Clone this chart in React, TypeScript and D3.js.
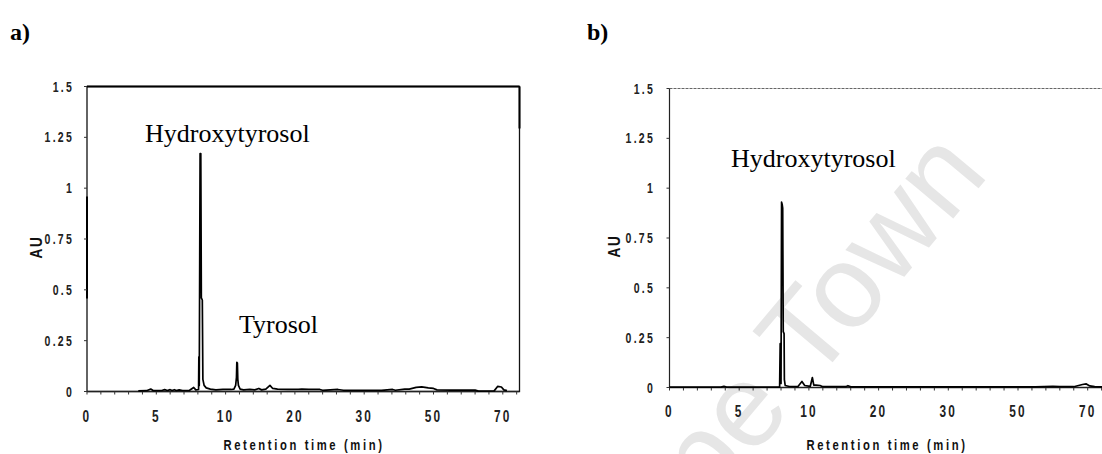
import React from 'react';
import * as d3 from 'd3';

// category-style x axis: labels are evenly spaced, values are not
const xTicks = [0, 5, 10, 20, 30, 50, 70];
const yTicks = [0, 0.25, 0.5, 0.75, 1, 1.25, 1.5];
const yTickLabels = ['0', '0.25', '0.5', '0.75', '1', '1.25', '1.5'];

// panel a) trace
const timeA = [3.7, 4.3, 4.6, 4.8, 5.4, 5.6, 5.8, 6.0, 6.15, 6.3, 6.45, 6.65, 6.9, 7.4, 7.7, 7.85, 8.05, 8.07, 8.1, 8.16, 8.21, 8.25, 8.32, 8.36, 8.45, 8.6, 8.9, 9.3, 9.8, 10.3, 10.8, 11.2, 11.45, 11.57, 11.62, 11.7, 11.76, 11.85, 12.1, 12.6, 13.5, 14.2, 14.8, 15.2, 15.8, 16.4, 16.8, 17.5, 19, 20.5, 21, 22, 23.6, 24, 26.2, 27, 30, 35, 38.2, 39, 41.7, 43, 45, 46.6, 48.5, 50, 51, 55, 62, 63, 67.5, 68.5, 69.6, 70.3, 71.2];
const auA = [0.003, 0.004, 0.012, 0.004, 0.005, 0.009, 0.005, 0.009, 0.005, 0.009, 0.005, 0.008, 0.005, 0.006, 0.02, 0.008, 0.01, 0.17, 0.03, 1.17, 1.17, 0.46, 0.45, 0.06, 0.03, 0.018, 0.012, 0.008, 0.01, 0.01, 0.01, 0.012, 0.03, 0.07, 0.143, 0.14, 0.06, 0.03, 0.012, 0.008, 0.01, 0.008, 0.015, 0.008, 0.012, 0.03, 0.015, 0.012, 0.01, 0.01, 0.012, 0.01, 0.01, 0.006, 0.01, 0.006, 0.006, 0.006, 0.01, 0.006, 0.012, 0.012, 0.02, 0.023, 0.018, 0.015, 0.008, 0.007, 0.007, 0.002, 0.003, 0.025, 0.022, 0.008, 0.004];

// panel b) trace
const timeB = [0, 3.7, 3.9, 4.1, 7.9, 7.94, 7.98, 8.0, 8.04, 8.08, 8.12, 8.16, 8.22, 8.24, 8.3, 8.6, 9.2, 9.5, 9.7, 10.2, 10.5, 10.7, 11.0, 11.6, 12.0, 15.3, 15.6, 16.0, 40, 55, 60, 62, 66, 68.5, 69.6, 70.6, 72, 75];
const auB = [0.002, 0.002, 0.006, 0.002, 0.002, 0.22, 0.22, 0.02, 0.93, 0.92, 0.9, 0.28, 0.27, 0.04, 0.01, 0.005, 0.004, 0.03, 0.01, 0.006, 0.05, 0.012, 0.012, 0.01, 0.004, 0.004, 0.009, 0.003, 0.003, 0.003, 0.006, 0.004, 0.004, 0.015, 0.018, 0.008, 0.004, 0.003];

const tickFont = 'Liberation Sans, Arial, sans-serif';
const serif = 'Liberation Serif, Times New Roman, serif';

type Label = { text: string; x: number; y: number };

type PanelProps = {
  tag: string;
  tagX: number;
  left: number;
  right: number;
  step: number;
  y0: number;
  yTop: number;
  yLabelRight: number;
  xLabelY: number;
  auX: number;
  titleX: number;
  times: number[];
  values: number[];
  labels: Label[];
  framed: boolean;
};

const Panel = (p: PanelProps) => {
  const x = d3.scaleLinear()
    .domain([...xTicks, 75])
    .range([...xTicks.map((_, i) => p.left + i * p.step), p.left + 6.25 * p.step]);
  const y = d3.scaleLinear().domain([0, 1.5]).range([p.y0, p.yTop]);

  const line = d3.line<number>()
    .x((_, i) => x(p.times[i]))
    .y(d => y(d));

  const minor = d3.range(0, 6.21, 0.2).map(i => p.left + i * p.step);

  return (
    <g>
      <text x={p.tagX} y={40} fontFamily={serif} fontWeight="bold" fontSize={24}>{p.tag}</text>

      {/* frame */}
      {p.framed ? (
        <g>
          <rect x={p.left} y={p.yTop} width={p.right - p.left} height={p.y0 - p.yTop}
            fill="none" stroke="#111" strokeWidth={1.3} />
          <line x1={p.left} x2={p.right} y1={p.yTop} y2={p.yTop} stroke="#000" strokeWidth={2} />
          <line x1={p.right} x2={p.right} y1={p.yTop} y2={p.yTop + 42} stroke="#000" strokeWidth={2} />
          <line x1={p.left} x2={p.left} y1={p.yTop + 110} y2={p.yTop + 212} stroke="#000" strokeWidth={2} />
        </g>
      ) : (
        <g>
          <line x1={p.left} x2={p.right} y1={p.yTop} y2={p.yTop} stroke="#666" strokeWidth={1} strokeDasharray="3 1" />
          <line x1={p.left} x2={p.left} y1={p.yTop} y2={p.y0} stroke="#222" strokeWidth={1.2} />
        </g>
      )}
      <line x1={p.left} x2={p.right} y1={p.y0} y2={p.y0} stroke="#222" strokeWidth={1.6} />

      {/* minor x ticks */}
      {minor.map((mx, i) => (
        <line key={i} x1={mx} x2={mx} y1={p.y0} y2={p.y0 + 3} stroke="#333" strokeWidth={1} />
      ))}

      {/* x labels */}
      {xTicks.map(t => (
        <text key={t} transform={`translate(${x(t)},${p.xLabelY}) scale(0.72,1)`}
          textAnchor="middle" fontFamily={tickFont} fontWeight="bold" fontSize={16.5}
          letterSpacing={3} fill="#222">{t}</text>
      ))}

      {/* y ticks and labels */}
      {yTicks.map((t, i) => (
        <g key={t}>
          <line x1={p.left - 3} x2={p.left} y1={y(t)} y2={y(t)} stroke="#333" strokeWidth={1} />
          <text transform={`translate(${p.yLabelRight},${y(t) + 5}) scale(0.75,1)`}
            textAnchor="end" fontFamily={tickFont} fontWeight="bold" fontSize={14}
            letterSpacing={3} fill="#222">{yTickLabels[i]}</text>
        </g>
      ))}

      <text transform={`translate(${p.auX},${(p.y0 + p.yTop) / 2 + 8}) rotate(-90) scale(0.85,1)`}
        textAnchor="middle" fontFamily={tickFont} fontWeight="bold" fontSize={16}
        letterSpacing={2} fill="#111">AU</text>

      <text transform={`translate(${p.titleX},450) scale(0.75,1)`} textAnchor="middle"
        fontFamily={tickFont} fontWeight="bold" fontSize={15} letterSpacing={3.5}
        fill="#111">Retention time (min)</text>

      <path d={line(p.values) || ''} fill="none" stroke="#000" strokeWidth={1.7} strokeLinejoin="round" />

      {p.labels.map(l => (
        <text key={l.text} x={l.x} y={l.y} fontFamily={serif} fontSize={26} fill="#000">{l.text}</text>
      ))}
    </g>
  );
};

const App = () => {
  return (
    <svg width={1102} height={454} style={{ position: 'absolute', left: 0, top: 0, background: '#fff' }}>
      <rect width={1102} height={454} fill="#fff" />
      <text transform="translate(612,625) rotate(-50)" fontFamily={tickFont} fontSize={118}
        fill="#e6e6e6">Cape Town</text>
      <Panel tag="a)" tagX={10} left={87} right={519.5} step={69.3} y0={391.5} yTop={86.5}
        yLabelRight={74} xLabelY={421.5} auX={42} titleX={304}
        times={timeA} values={auA} framed={true}
        labels={[{ text: 'Hydroxytyrosol', x: 145, y: 142 }, { text: 'Tyrosol', x: 239, y: 333 }]} />
      <Panel tag="b)" tagX={587} left={669.5} right={1102} step={69.7} y0={387.5} yTop={88.5}
        yLabelRight={655} xLabelY={417} auX={620} titleX={887}
        times={timeB} values={auB} framed={false}
        labels={[{ text: 'Hydroxytyrosol', x: 731, y: 167 }]} />
    </svg>
  );
};

export default App;
